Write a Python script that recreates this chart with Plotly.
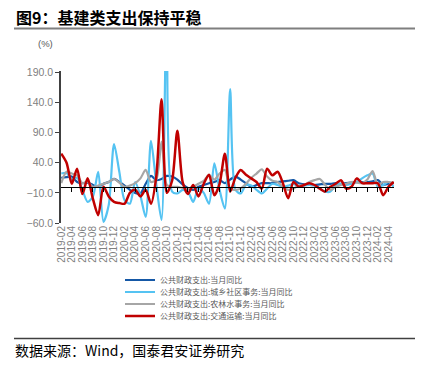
import plotly.graph_objects as go
import pandas as pd

# ---------------- data ----------------
months = pd.date_range("2019-02-01", "2024-05-01", freq="MS").strftime("%Y-%m").tolist()
tick_labels = months[::2]

series_names = [
    "公共财政支出:当月同比",
    "公共财政支出:城乡社区事务:当月同比",
    "公共财政支出:农林水事务:当月同比",
    "公共财政支出:交通运输:当月同比",
]

total = [15, 16, 17, 8, 6, 7, 3, 0, 5, 8, 13, 8, 2, -5, -10, -11, 5, 18, 11, 13,
         18, 17, 12, 4, -2, -5, 0, 3, 6, 8, 11, 6, 12, 17, 12, 6, 0, 3, 6, 6,
         6, 8, 9, 10, 11, 6, 4, 3, 3, 4, 5, 5, 6, 5, 6, 7, 8, 8, 8, 9,
         11, 3, 5, 6]

urban = [22, 23, 12, 15, -5, -25, -16, 25, -58, -30, 71, 25, -22, -28, 8, -15, -50, 76, 5, -55,
         320, -8, -11, -5, -8, -25, -3, -10, -28, 39, -5, -36, 162, -5, -11, 3, 2, -5, -11, -3,
         5, 3, 0, 2, 5, 0, 2, 3, 2, -3, -8, -8, 3, 5, 3, 5, 8, 14, 19, 22,
         0, 3, 8, 0]

agri = [6, 25, 22, 19, 6, 8, 0, 2, 5, 8, 13, 7, 0, 2, 6, 14, 28, 8, 12, 75,
        3, 0, 0, -2, -3, 0, 5, 10, 20, 12, 22, 28, -3, -5, -3, 5, 15, 22, 29, 17,
        10, 8, 0, -5, -3, 2, 3, 8, 11, 13, 3, -5, 0, 3, 5, 8, 7, 6, 12, 26,
        3, 8, 8, 7]

transport = [55, 40, 5, 30, -12, 14, -20, -47, 0, -16, -25, -27, -28, -10, -5, -16, -5, -28, 17, 145,
             -10, 10, 93, 8, -12, 3, -16, 5, 20, -14, 5, 55, -8, 15, 28, 20, 14, 8, -3, 30,
             19, 25, 6, -19, 8, 0, 3, 6, 3, -3, -8, 0, 5, 11, -3, 0, 14, 6, 6, 6,
             6, -14, 0, 8]

y_ticks = [-60, -10, 40, 90, 140, 190]

colors = ["#1558a6", "#55c3f2", "#a6a6a6", "#c00000"]
widths = [2.2, 2.2, 2.2, 2.5]

# ---------------- layout helpers ----------------
W, H = 427, 371
L, R, T, B = 61, 33, 71, 148
PW, PH = W - L - R, H - T - B


def fx(x):
    return (x - L) / PW


def fy(y):
    return (H - B - y) / PH


fig = go.Figure()
legend_ids = ["legend", "legend2", "legend3", "legend4"]
for name, vals, col, w, lg in zip(series_names, [total, urban, agri, transport], colors, widths, legend_ids):
    fig.add_trace(go.Scatter(
        x=months, y=vals, mode="lines", name=name,
        line=dict(color=col, width=w, shape="spline", smoothing=0.75),
        legend=lg, xaxis="x", yaxis="y",
    ))

# dummy trace for the zero-line axis
fig.add_trace(go.Scatter(x=months, y=[None] * len(months), xaxis="x2", yaxis="y",
                         showlegend=False, hoverinfo="skip"))

legend_rows = [280, 292, 304, 316]
legend_layouts = {}
for lg, row in zip(legend_ids, legend_rows):
    legend_layouts[lg] = dict(
        x=fx(120), y=fy(row), xanchor="left", yanchor="middle",
        font=dict(size=8, color="#595959", family="Noto Sans CJK SC"),
        bgcolor="rgba(0,0,0,0)", itemwidth=30, borderwidth=0,
    )

fig.update_layout(
    width=W, height=H,
    margin=dict(l=L, r=R, t=T, b=B, pad=0, autoexpand=False),
    paper_bgcolor="white", plot_bgcolor="white",
    showlegend=True,
    **legend_layouts,
    xaxis=dict(
        type="category", categoryarray=months, range=[-0.05, 63.05],
        showline=False, showgrid=False, zeroline=False,
        tickmode="array", tickvals=tick_labels, ticktext=tick_labels,
        tickangle=-90, ticks="", ticklen=0, automargin=False,
        tickfont=dict(size=10, color="#7f7f7f", family="Liberation Sans"),
    ),
    xaxis2=dict(
        type="category", categoryarray=months, range=[-0.05, 63.05],
        overlaying="x", anchor="free", position=60 / 252,
        showline=True, linecolor="#000000", linewidth=1.3,
        showgrid=False, zeroline=False, showticklabels=False,
        tickmode="array", tickvals=tick_labels[1:],
        ticks="outside", ticklen=4, tickwidth=1, tickcolor="#000000",
    ),
    yaxis=dict(
        range=[-60, 192], tickvals=y_ticks, tickformat=".1f",
        showline=True, linecolor="#404040", linewidth=1.6,
        ticks="outside", ticklen=4, tickwidth=1.3, tickcolor="#404040",
        showgrid=False, zeroline=False, automargin=False,
        tickfont=dict(size=10.5, color="#7f7f7f", family="Liberation Sans"),
    ),
    annotations=[
        dict(text="<b>图9：基建类支出保持平稳</b>", xref="paper", yref="paper",
             x=fx(14), y=fy(17), xanchor="left", yanchor="middle", showarrow=False,
             font=dict(size=16, color="#000000", family="Noto Sans CJK SC")),
        dict(text="(%)", xref="paper", yref="paper",
             x=fx(36), y=fy(43), xanchor="left", yanchor="middle", showarrow=False,
             font=dict(size=9.5, color="#595959", family="Liberation Sans")),
        dict(text="数据来源：Wind，国泰君安证券研究", xref="paper", yref="paper",
             x=fx(13), y=fy(350), xanchor="left", yanchor="middle", showarrow=False,
             font=dict(size=14, color="#000000", family="Noto Sans CJK SC")),
    ],
    shapes=[
        dict(type="line", xref="paper", yref="paper", x0=fx(14), x1=fx(415),
             y0=fy(28.5), y1=fy(28.5), line=dict(color="#7f7f7f", width=2)),
        dict(type="line", xref="paper", yref="paper", x0=fx(14), x1=fx(415),
             y0=fy(338.5), y1=fy(338.5), line=dict(color="#404040", width=1.3)),
    ],
)

fig.write_html("out.html", config={"displayModeBar": False},
               post_script="document.body.style.margin='0px';")
